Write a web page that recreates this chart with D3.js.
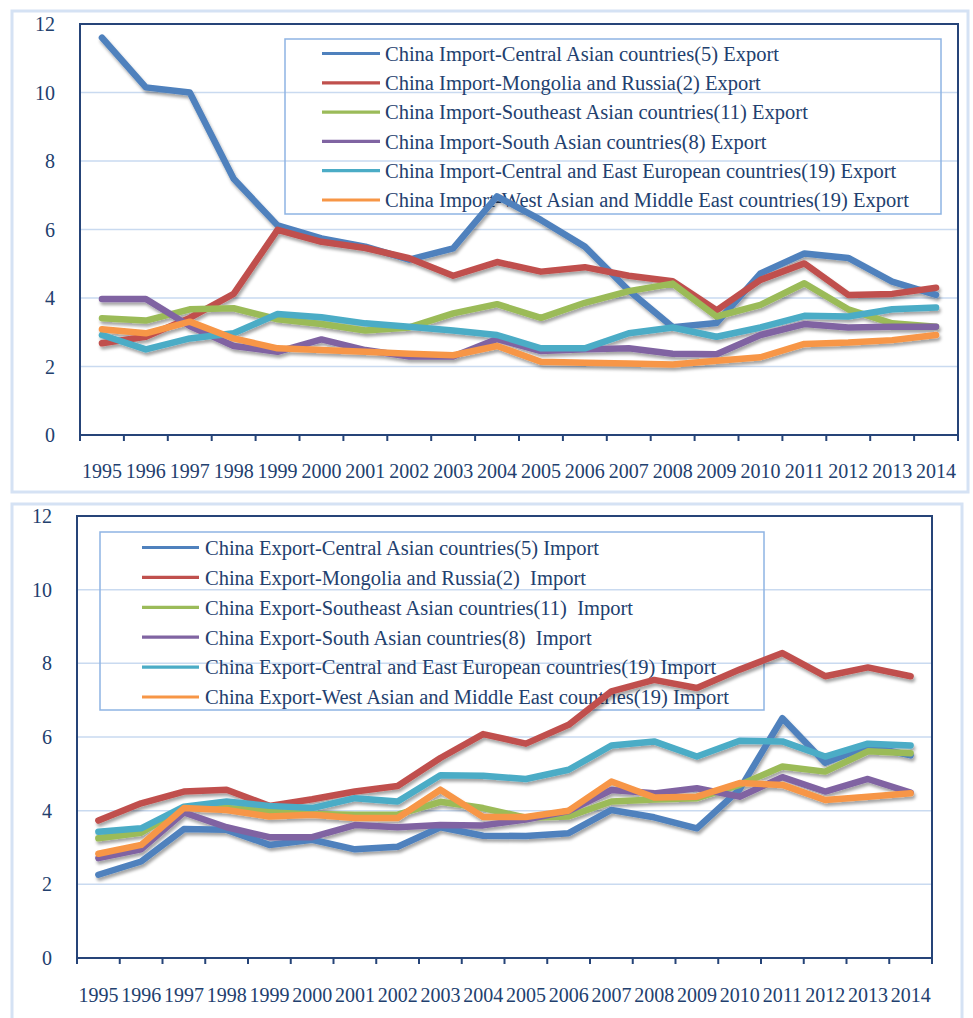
<!DOCTYPE html>
<html>
<head>
<meta charset="utf-8">
<script src="https://cdn.jsdelivr.net/npm/d3@7"></script>
<style>
  html, body { margin: 0; padding: 0; background: #ffffff; }
  svg { display: block; }
  text { font-family: "Liberation Serif", "Times New Roman", serif; fill: #22406e; white-space: pre; }
</style>
</head>
<body>
<svg id="chart" width="973" height="1018"></svg>
<script>
// ---------- DATA ----------
const years = ["1995","1996","1997","1998","1999","2000","2001","2002","2003","2004",
               "2005","2006","2007","2008","2009","2010","2011","2012","2013","2014"];
const yTicks = [0, 2, 4, 6, 8, 10, 12];
const seriesColors = ["#4f81bd", "#c0504d", "#9bbb59", "#8064a2", "#4bacc6", "#f79646"];

// Top chart: China Import - region Export
const topLabels = [
  "China Import-Central Asian countries(5) Export",
  "China Import-Mongolia and Russia(2) Export",
  "China Import-Southeast Asian countries(11) Export",
  "China Import-South Asian countries(8) Export",
  "China Import-Central and East European countries(19) Export",
  "China Import-West Asian and Middle East countries(19) Export"
];
const topCentralAsia   = [11.6, 10.15, 10.0, 7.48, 6.12, 5.74, 5.5, 5.12, 5.45, 6.97, 6.28, 5.5, 4.22, 3.15, 3.27, 4.72, 5.3, 5.17, 4.48, 4.09];
const topMongoliaRussia= [2.68, 2.87, 3.42, 4.12, 5.99, 5.64, 5.46, 5.16, 4.65, 5.05, 4.77, 4.9, 4.65, 4.49, 3.64, 4.53, 5.01, 4.09, 4.12, 4.3];
const topSoutheastAsia = [3.41, 3.34, 3.67, 3.7, 3.38, 3.24, 3.05, 3.14, 3.55, 3.82, 3.42, 3.86, 4.2, 4.42, 3.46, 3.8, 4.43, 3.67, 3.26, 3.16];
const topSouthAsia     = [3.97, 3.97, 3.18, 2.6, 2.43, 2.79, 2.48, 2.29, 2.29, 2.8, 2.45, 2.5, 2.53, 2.37, 2.36, 2.92, 3.24, 3.14, 3.16, 3.16];
const topCEEurope      = [2.92, 2.5, 2.82, 2.97, 3.53, 3.44, 3.26, 3.16, 3.05, 2.92, 2.53, 2.53, 2.97, 3.14, 2.87, 3.14, 3.48, 3.46, 3.67, 3.72];
const topWestAsiaME    = [3.09, 2.97, 3.31, 2.82, 2.53, 2.48, 2.43, 2.37, 2.33, 2.6, 2.14, 2.11, 2.09, 2.06, 2.17, 2.27, 2.66, 2.7, 2.77, 2.92];

// Bottom chart: China Export - region Import
const bottomLabels = [
  "China Export-Central Asian countries(5) Import",
  "China Export-Mongolia and Russia(2)  Import",
  "China Export-Southeast Asian countries(11)  Import",
  "China Export-South Asian countries(8)  Import",
  "China Export-Central and East European countries(19) Import",
  "China Export-West Asian and Middle East countries(19) Import"
];
const botCentralAsia   = [2.26, 2.62, 3.5, 3.48, 3.07, 3.21, 2.95, 3.02, 3.55, 3.32, 3.31, 3.39, 4.02, 3.82, 3.52, 4.58, 6.51, 5.3, 5.75, 5.5];
const botMongoliaRussia= [3.73, 4.2, 4.52, 4.57, 4.13, 4.31, 4.52, 4.67, 5.43, 6.08, 5.82, 6.33, 7.24, 7.55, 7.33, 7.83, 8.28, 7.65, 7.89, 7.65];
const botSoutheastAsia = [3.25, 3.4, 4.07, 4.07, 3.98, 3.91, 3.89, 3.89, 4.24, 4.07, 3.81, 3.84, 4.25, 4.3, 4.34, 4.7, 5.2, 5.06, 5.61, 5.56];
const botSouthAsia     = [2.71, 2.95, 3.95, 3.55, 3.28, 3.28, 3.61, 3.55, 3.61, 3.6, 3.76, 3.99, 4.56, 4.47, 4.61, 4.38, 4.91, 4.52, 4.86, 4.49];
const botCEEurope      = [3.43, 3.52, 4.11, 4.25, 4.13, 4.07, 4.34, 4.25, 4.96, 4.95, 4.86, 5.11, 5.77, 5.88, 5.47, 5.9, 5.88, 5.47, 5.82, 5.77];
const botWestAsiaME    = [2.83, 3.07, 4.07, 4.02, 3.84, 3.89, 3.8, 3.8, 4.57, 3.83, 3.83, 4.0, 4.79, 4.36, 4.38, 4.75, 4.7, 4.29, 4.38, 4.47];

const topSeries = [topCentralAsia, topMongoliaRussia, topSoutheastAsia, topSouthAsia, topCEEurope, topWestAsiaME];
const botSeries = [botCentralAsia, botMongoliaRussia, botSoutheastAsia, botSouthAsia, botCEEurope, botWestAsiaME];

// ---------- DRAW ----------
const svg = d3.select("#chart");

const defs = svg.append("defs");
const f = defs.append("filter").attr("id", "shadow")
  .attr("x", "-5%").attr("y", "-20%").attr("width", "110%").attr("height", "140%");
f.append("feDropShadow").attr("dx", 1.5).attr("dy", 3).attr("stdDeviation", 1.6)
  .attr("flood-color", "#000").attr("flood-opacity", 0.35);

function drawChart(cfg) {
  // outer frame
  svg.append("rect")
    .attr("x", cfg.frame[0]).attr("y", cfg.frame[1])
    .attr("width", cfg.frame[2] - cfg.frame[0]).attr("height", cfg.frame[3] - cfg.frame[1])
    .attr("fill", "#ffffff").attr("stroke", "#d5e2f4").attr("stroke-width", 3);

  const x = d3.scaleBand().domain(years).range([cfg.left, cfg.right]);
  const y = d3.scaleLinear().domain([0, 12]).range([cfg.bottom, cfg.top]);
  const g = svg.append("g");

  // gridlines
  g.append("g").selectAll("line").data(yTicks.filter(t => t > 0 && t < 12)).join("line")
    .attr("x1", cfg.left).attr("x2", cfg.right)
    .attr("y1", d => y(d)).attr("y2", d => y(d))
    .attr("stroke", "#c9daf0").attr("stroke-width", 1.5);

  // y tick labels
  g.append("g").selectAll("text").data(yTicks).join("text")
    .attr("x", cfg.left - cfg.yLabelGap).attr("y", d => y(d)).attr("dy", "0.35em")
    .attr("text-anchor", "end").style("font-size", "20px")
    .text(d => d);

  // x axis ticks at band boundaries
  const bounds = years.map(d => x(d)).concat([cfg.right]);
  g.append("g").selectAll("line").data(bounds).join("line")
    .attr("x1", d => d).attr("x2", d => d)
    .attr("y1", cfg.bottom).attr("y2", cfg.bottom + 6)
    .attr("stroke", "#264478").attr("stroke-width", 2);

  // x labels
  g.append("g").selectAll("text").data(years).join("text")
    .attr("x", d => x(d) + x.bandwidth() / 2).attr("y", cfg.xLabelY)
    .attr("text-anchor", "middle").style("font-size", "20px")
    .text(d => d);

  // legend
  const lg = g.append("g");
  lg.append("rect")
    .attr("x", cfg.legend.x0).attr("y", cfg.legend.y0)
    .attr("width", cfg.legend.x1 - cfg.legend.x0).attr("height", cfg.legend.y1 - cfg.legend.y0)
    .attr("fill", "none").attr("stroke", "#8eb4e3").attr("stroke-width", 1.5);
  const items = lg.selectAll("g.item").data(cfg.labels).join("g").attr("class", "item")
    .attr("transform", (d, i) => `translate(0,${cfg.legend.firstY + i * cfg.legend.step})`);
  items.append("line")
    .attr("x1", cfg.legend.lineX0).attr("x2", cfg.legend.lineX1)
    .attr("stroke", (d, i) => seriesColors[i]).attr("stroke-width", 3.2);
  items.append("text")
    .attr("x", cfg.legend.textX).attr("dy", "0.36em")
    .style("font-size", cfg.legend.fontSize + "px")
    .text(d => d);

  // lines
  const line = d3.line().x((d, i) => x(years[i]) + x.bandwidth() / 2).y(d => y(d));
  g.append("g").attr("filter", "url(#shadow)")
    .selectAll("path").data(cfg.series).join("path")
    .attr("d", line)
    .attr("fill", "none")
    .attr("stroke", (d, i) => seriesColors[i])
    .attr("stroke-width", 6.5)
    .attr("stroke-linejoin", "round")
    .attr("stroke-linecap", "round");

  // plot border
  g.append("rect")
    .attr("x", cfg.left).attr("y", cfg.top)
    .attr("width", cfg.right - cfg.left).attr("height", cfg.bottom - cfg.top)
    .attr("fill", "none").attr("stroke", "#264478").attr("stroke-width", 2);
}

drawChart({
  frame: [12, 11, 968, 492],
  left: 80, right: 958, top: 24, bottom: 435,
  yLabelGap: 25, xLabelY: 478,
  labels: topLabels, series: topSeries,
  legend: { x0: 285, y0: 39, x1: 941, y1: 214, firstY: 53.5, step: 29.3,
            lineX0: 322, lineX1: 380, textX: 385, fontSize: 20.5 }
});

drawChart({
  frame: [12, 504, 962, 1040],
  left: 77, right: 932, top: 516, bottom: 958,
  yLabelGap: 25, xLabelY: 1002,
  labels: bottomLabels, series: botSeries,
  legend: { x0: 100, y0: 532, x1: 764, y1: 710, firstY: 547.5, step: 29.9,
            lineX0: 142, lineX1: 199, textX: 205, fontSize: 20.5 }
});
</script>
</body>
</html>
